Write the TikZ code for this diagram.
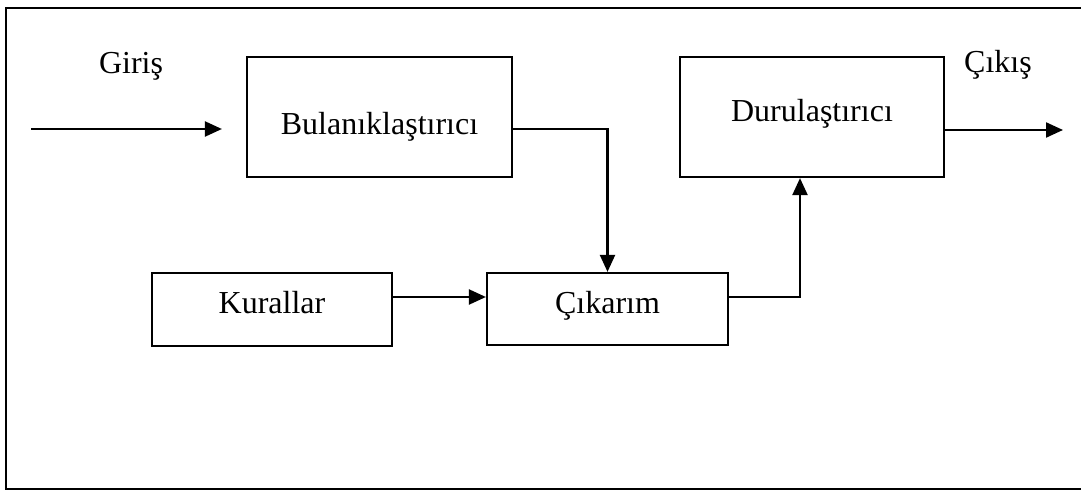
\documentclass[tikz,border=0pt]{standalone}
\usepackage{fontspec}
\setmainfont{Liberation Serif}
\usetikzlibrary{arrows.meta}
\usetikzlibrary{positioning}

\begin{document}
\begin{tikzpicture}[x=0.5pt,y=-0.5pt,line width=1.1pt,
    yazi/.style={font=\fontsize{16}{19}\selectfont},
    blok/.style={draw,rectangle,inner sep=0pt,text depth=0pt,yazi},
    ok/.style={-{Triangle[length=8.5pt,width=7.5pt]}}]
          \useasboundingbox (0,0) rectangle (1081,491);
          %frame, open at the right side
          \draw (1081,8) -- (6,8) -- (6,489) -- (1081,489);
          \node[blok,minimum width=132.5pt,minimum height=60pt,text height=18pt] (bul) at (379.5,117) {Bulanıklaştırıcı\hspace{13.5pt}};
          \node[blok,minimum width=132pt,minimum height=60pt,text height=5pt] (dur) at (812,117) {Durulaştırıcı\hspace{9pt}};
          \node[blok,minimum width=120pt,minimum height=36.5pt,text height=4.5pt] (kur) at (272,309.5) {Kurallar};
          \node[blok,minimum width=120.5pt,minimum height=36pt,text height=5pt] (cik) at (607.5,309) {Çıkarım};
          \node[yazi,anchor=base] (giris) at (131,74) {Giriş};
          \node[yazi,anchor=base] (cikis) at (998,73) {Çıkış};
          \coordinate (giris-bas) at (31,129);
          \coordinate (cikis-son) at (1063,130);
          %connectors
          \draw[ok,shorten >=12pt] (giris-bas) -- (giris-bas -| bul.west);
          \draw[ok] ([yshift=-6pt]bul.east) -| (cik.north);
          \draw[ok] ([yshift=6.25pt]kur.east) -- ([yshift=6.25pt]kur.east -| cik.west);
          \draw[ok] ([yshift=6pt]cik.east) -| ([xshift=-6pt]dur.south);
          \draw[ok] ([yshift=-6.5pt]dur.east) -- (cikis-son);
      \end{tikzpicture}
\end{document}
